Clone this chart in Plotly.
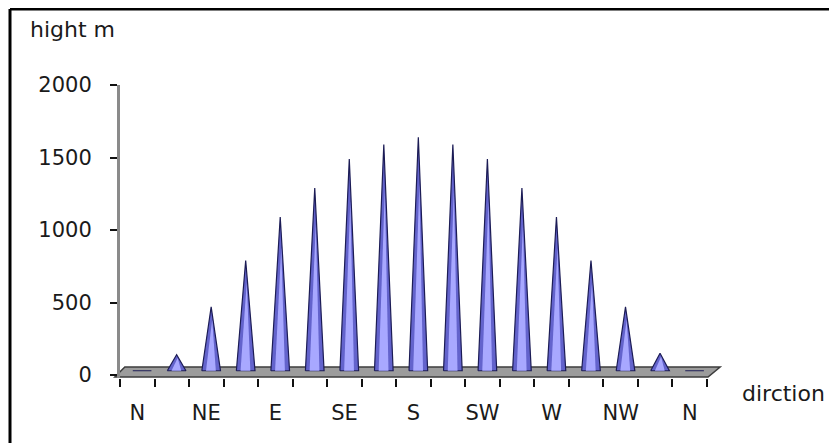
import plotly.graph_objects as go

# ---- data ----
directions = ["N", "NNE", "NE", "ENE", "E", "ESE", "SE", "SSE", "S",
              "SSW", "SW", "WSW", "W", "WNW", "NW", "NNW", "N"]
heights = [0, 140, 470, 790, 1090, 1290, 1490, 1590, 1640,
           1590, 1490, 1290, 1090, 790, 470, 150, 0]
tick_labels = ["N", "", "NE", "", "E", "", "SE", "", "S",
               "", "SW", "", "W", "", "NW", "", "N"]
y_ticks = [0, 500, 1000, 1500, 2000]

# ---- styling constants ----
X_RANGE = [-0.5, len(directions) - 0.5]
Y_RANGE = [-20, 2000]
CONE_HALF = 0.27      # half base width in category units
CONE_DX = 0.14        # 3D depth offset of the cones
CONE_BASE = 30        # cones sit at mid depth of the floor
FONT = dict(family="DejaVu Sans", size=21, color="#1a1a1a")
TITLE_FONT = dict(family="DejaVu Sans", size=22, color="#1a1a1a")

OFF = 8  # page body margin
W, H = 837 - OFF, 443 - OFF
ML, MT = 120 - OFF, 85 - OFF
MR = W - (707 - OFF)
MB = H - (378 - OFF)

fig = go.Figure()

idx = list(range(len(directions)))

# cones
for i, v in zip(idx, heights):
    cx = i + CONE_DX
    top = max(v, CONE_BASE)
    fig.add_trace(go.Scatter(
        x=[cx - CONE_HALF, cx, cx + CONE_HALF, cx - CONE_HALF],
        y=[CONE_BASE, top, CONE_BASE, CONE_BASE],
        mode="lines", fill="toself", fillcolor="#6363cc",
        line=dict(color="#1c1c55", width=1.2), hoverinfo="skip",
        showlegend=False))
    inner_top = CONE_BASE + (top - CONE_BASE) * 0.8
    fig.add_trace(go.Scatter(
        x=[cx - CONE_HALF * 0.55, cx + 0.03, cx + CONE_HALF * 0.5, cx - CONE_HALF * 0.55],
        y=[CONE_BASE, inner_top, CONE_BASE, CONE_BASE],
        mode="lines", fill="toself", fillcolor="#a8a8ff",
        line=dict(color="rgba(0,0,0,0)", width=0), hoverinfo="skip",
        showlegend=False))


def px(x):
    return (x - X_RANGE[0]) / (X_RANGE[1] - X_RANGE[0])


def py(y):
    return (y - Y_RANGE[0]) / (Y_RANGE[1] - Y_RANGE[0])


# floor (3D base plate)
fl, fr = X_RANGE[0] - 0.15, X_RANGE[1] + 0.03
bl, br = X_RANGE[0] + 0.14, X_RANGE[1] + 0.38
yf, yb = -13, 56
floor_path = (f"M {px(fl)} {py(yf)} L {px(fr)} {py(yf)} "
              f"L {px(br)} {py(yb)} L {px(bl)} {py(yb)} Z")
fig.add_shape(type="path", path=floor_path, xref="paper", yref="paper",
              fillcolor="#9c9c9c", line=dict(color="#3c3c3c", width=1.5),
              layer="below")

# chart frame (top and left edges visible)
pw = W - ML - MR
ph = H - MT - MB
left_x = (10 - OFF - ML) / pw
top_y = (H - MB - (9 - OFF)) / ph
fig.add_shape(type="line", xref="paper", yref="paper",
              x0=left_x, x1=left_x, y0=top_y, y1=-0.5,
              line=dict(color="black", width=3))
fig.add_shape(type="line", xref="paper", yref="paper",
              x0=left_x, x1=1.5, y0=top_y, y1=top_y,
              line=dict(color="black", width=3))

# axis titles
fig.add_annotation(text="hight m", xref="paper", yref="paper",
                   x=(28 - OFF - ML) / pw, y=(H - MB - (29 - OFF)) / ph,
                   xanchor="left", yanchor="middle", showarrow=False, font=TITLE_FONT)
fig.add_annotation(text="dirction", xref="paper", yref="paper",
                   x=(740 - OFF - ML) / pw, y=(H - MB - (393 - OFF)) / ph,
                   xanchor="left", yanchor="middle", showarrow=False, font=TITLE_FONT)

# dummy trace to activate xaxis2 labels
fig.add_trace(go.Scatter(x=idx, y=[None] * len(idx), xaxis="x2",
                         mode="markers", showlegend=False, hoverinfo="skip"))

fig.update_layout(
    width=W, height=H,
    margin=dict(l=ML, r=MR, t=MT, b=MB),
    paper_bgcolor="white", plot_bgcolor="white",
    showlegend=False,
    xaxis=dict(range=X_RANGE, tickmode="linear", tick0=-0.5, dtick=1,
               showticklabels=False, ticks="outside", ticklen=8, tickwidth=2,
               tickcolor="#111", showgrid=False, zeroline=False, showline=False),
    xaxis2=dict(range=X_RANGE, overlaying="x", anchor="y", side="bottom",
                tickmode="array", tickvals=idx, ticktext=tick_labels,
                ticks="", ticklabelstandoff=20, tickfont=FONT,
                showgrid=False, zeroline=False, showline=False),
    yaxis=dict(range=Y_RANGE, tickmode="array", tickvals=y_ticks,
               ticks="outside", ticklen=7, tickwidth=2, tickcolor="#111",
               ticklabelstandoff=14, tickfont=FONT,
               showgrid=False, zeroline=False, showline=True,
               linecolor="#8a8a8a", linewidth=3),
)

fig.write_html("out.html")
